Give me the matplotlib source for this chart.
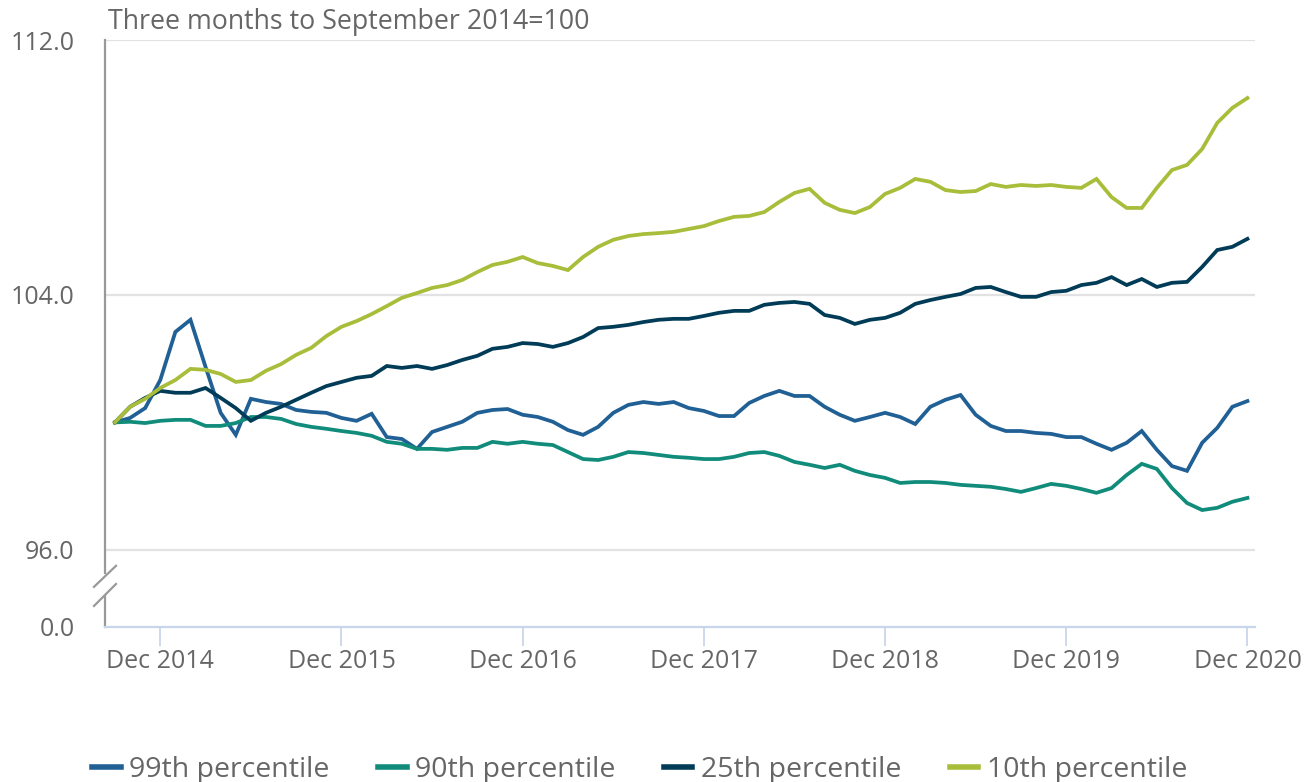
import pandas as pd
import matplotlib
matplotlib.use("Agg")
import matplotlib.pyplot as plt
import matplotlib.transforms as mtransforms

plt.rcParams['font.family'] = ['Open Sans', 'DejaVu Sans']

# Monthly index values, three months to September 2014 = 100
months = pd.date_range('2014-09-01', '2020-12-01', freq='MS')

p99 = [100.0, 100.14, 100.45, 101.33, 102.84, 103.22, 101.74, 100.30, 99.61, 100.74,
       100.64, 100.58, 100.39, 100.33, 100.30, 100.14, 100.05, 100.27, 99.54, 99.48,
       99.17, 99.70, 99.86, 100.02, 100.30, 100.39, 100.42, 100.24, 100.17, 100.02,
       99.76, 99.61, 99.86, 100.30, 100.55, 100.64, 100.58, 100.64, 100.45, 100.36,
       100.20, 100.20, 100.61, 100.83, 100.99, 100.83, 100.83, 100.49, 100.24, 100.05,
       100.17, 100.30, 100.17, 99.95, 100.49, 100.71, 100.86, 100.24, 99.89, 99.73,
       99.73, 99.67, 99.64, 99.54, 99.54, 99.33, 99.14, 99.36, 99.73, 99.14,
       98.63, 98.48, 99.36, 99.83, 100.49, 100.67]

p90 = [100.0, 100.02, 99.98, 100.05, 100.08, 100.08, 99.89, 99.89, 99.98, 100.17,
       100.17, 100.11, 99.95, 99.86, 99.80, 99.73, 99.67, 99.58, 99.39, 99.33,
       99.17, 99.17, 99.14, 99.20, 99.20, 99.39, 99.33, 99.39, 99.33, 99.29,
       99.07, 98.85, 98.82, 98.92, 99.07, 99.04, 98.98, 98.92, 98.89, 98.85,
       98.85, 98.92, 99.04, 99.07, 98.95, 98.76, 98.67, 98.57, 98.67, 98.48,
       98.35, 98.26, 98.10, 98.13, 98.13, 98.10, 98.04, 98.01, 97.98, 97.91,
       97.82, 97.94, 98.07, 98.01, 97.91, 97.79, 97.94, 98.35, 98.70, 98.54,
       97.94, 97.47, 97.25, 97.32, 97.51, 97.63]

p25 = [100.0, 100.49, 100.77, 100.99, 100.93, 100.93, 101.08, 100.77, 100.45, 100.05,
       100.30, 100.49, 100.71, 100.93, 101.14, 101.27, 101.40, 101.46, 101.77, 101.71,
       101.77, 101.68, 101.80, 101.96, 102.09, 102.31, 102.37, 102.49, 102.46, 102.37,
       102.49, 102.68, 102.96, 103.00, 103.06, 103.15, 103.22, 103.25, 103.25, 103.34,
       103.44, 103.50, 103.50, 103.69, 103.75, 103.78, 103.72, 103.37, 103.28, 103.09,
       103.22, 103.28, 103.44, 103.72, 103.84, 103.94, 104.03, 104.22, 104.25, 104.09,
       103.94, 103.94, 104.09, 104.13, 104.31, 104.38, 104.56, 104.31, 104.50, 104.25,
       104.38, 104.41, 104.88, 105.41, 105.51, 105.76]

p10 = [100.0, 100.49, 100.74, 101.08, 101.33, 101.68, 101.65, 101.52, 101.27, 101.33,
       101.62, 101.83, 102.12, 102.34, 102.71, 103.00, 103.18, 103.40, 103.65, 103.91,
       104.06, 104.22, 104.31, 104.47, 104.72, 104.94, 105.04, 105.19, 105.00, 104.91,
       104.78, 105.19, 105.51, 105.73, 105.85, 105.91, 105.94, 105.98, 106.07, 106.16,
       106.32, 106.45, 106.48, 106.60, 106.92, 107.20, 107.33, 106.89, 106.67, 106.57,
       106.76, 107.17, 107.36, 107.64, 107.55, 107.29, 107.23, 107.26, 107.48, 107.39,
       107.45, 107.42, 107.45, 107.39, 107.36, 107.64, 107.07, 106.73, 106.73, 107.36,
       107.92, 108.08, 108.58, 109.40, 109.87, 110.18]

series_names = ['99th percentile', '90th percentile', '25th percentile', '10th percentile']
series_colors = ['#206095', '#118c7b', '#003c57', '#a8bd3a']

y_ticks = [96.0, 104.0, 112.0]
zero_pos = 93.58  # where the broken axis puts 0.0

fig = plt.figure(figsize=(13.11, 7.82), dpi=100)
ax = fig.add_axes([105 / 1311, 1 - 627 / 782, 1150 / 1311, 587 / 782])

x = list(range(len(months)))
for vals, name, col in zip([p99, p90, p25, p10], series_names, series_colors):
    ax.plot(x, vals, color=col, lw=2.7, label=name, solid_joinstyle='miter')

ax.set_ylim(zero_pos, 112)
ax.set_xlim(-0.66, len(months) - 0.5)

ax.set_yticks([zero_pos] + y_ticks)
ax.set_yticklabels(['0.0'] + [f'{v:.1f}' for v in y_ticks])
for v in y_ticks:
    ax.axhline(v, color='#e2e2e2', lw=1.6, zorder=0)

dec_idx = [i for i, m in enumerate(months) if m.month == 12]
ax.set_xticks(dec_idx)
ax.set_xticklabels([months[i].strftime('%b %Y') for i in dec_idx])

ax.tick_params(axis='y', length=0, pad=22, labelsize=18, labelcolor='#666666')
ax.tick_params(axis='x', length=14, width=1.3, color='#c9d5ea', pad=2,
               labelsize=18, labelcolor='#666666')

for s in ['top', 'right']:
    ax.spines[s].set_visible(False)
ax.spines['bottom'].set_color('#c9d5ea')
ax.spines['bottom'].set_linewidth(1.6)
ax.spines['left'].set_color('#999999')
ax.spines['left'].set_linewidth(1.6)
ax.spines['left'].set_bounds(95.28, 112)

# lower piece of the y axis and the break marks
trans = mtransforms.blended_transform_factory(ax.transAxes, ax.transData)
ax.plot([0, 0], [zero_pos, 94.55], color='#999999', lw=1.6, transform=trans, clip_on=False)
dx = 11 / 1150
ax.plot([-dx, dx], [94.84, 95.50], color='#999999', lw=1.6, transform=trans, clip_on=False)
ax.plot([-dx, dx], [94.24, 94.93], color='#999999', lw=1.6, transform=trans, clip_on=False)

fig.text(108 / 1311, 1 - 22 / 782, 'Three months to September 2014=100',
         fontsize=19.3, color='#666666', va='center', ha='left')

leg = fig.legend(loc='center', bbox_to_anchor=(0.488, 1 - 770 / 782), ncol=4, frameon=False,
                 fontsize=20.5, labelcolor='#666666', handlelength=1.0, handletextpad=0.3,
                 columnspacing=1.7)
for h in leg.get_lines():
    h.set_linewidth(4)

fig.savefig('out.png', dpi=100)
